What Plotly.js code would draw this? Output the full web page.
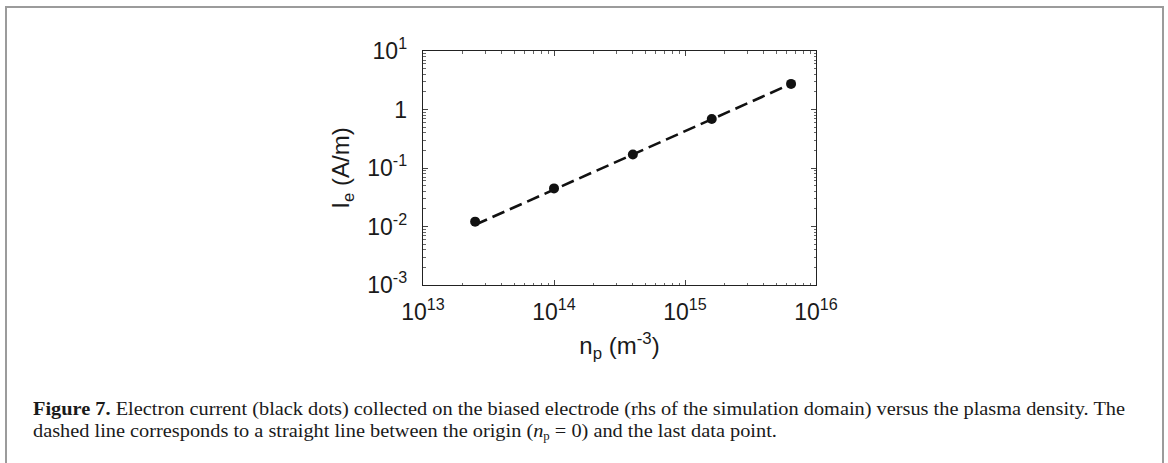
<!DOCTYPE html>
<html>
<head>
<meta charset="utf-8">
<script src="https://cdn.plot.ly/plotly-3.0.1.min.js"></script>
<style>
  html, body { margin:0; padding:0; background:#fff; width:1168px; height:463px; overflow:hidden; }
  #chart { position:absolute; left:0; top:0; width:1168px; height:463px; }
  #frame { position:absolute; left:5px; top:6px; width:1155px; height:480px;
           border:2px solid #9b9b9b; border-bottom:none; pointer-events:none; z-index:5; }
  .cap { position:absolute; left:33px; font-family:"Liberation Serif", serif; font-size:19px;
         line-height:19px; white-space:nowrap; color:#1a1a1a; transform-origin:0 0; display:inline-block; z-index:6; }
</style>
</head>
<body>
<div id="chart"></div>
<div id="frame"></div>
<div class="cap" id="cap1" style="top:399px"><b>Figure 7.</b> Electron current (black dots) collected on the biased electrode (rhs of the simulation domain) versus the plasma density. The</div>
<div class="cap" id="cap2" style="top:421px">dashed line corresponds to a straight line between the origin (<i>n</i><sub style="font-size:12px;vertical-align:-3px">p</sub> = 0) and the last data point.</div>
<script>
// Data
const density = [2.5e13, 1e14, 4e14, 1.6e15, 6.45e15];      // n_p (m^-3)
const current = [0.0121, 0.0448, 0.170, 0.687, 2.74];       // I_e (A/m)
const lineDensity = [2.5e13, 6.45e15];                      // dashed line ends
const lineCurrent = [0.0107, 2.74];
const xTickVals = [1e13, 1e14, 1e15, 1e16];
const xTickText = ['10<sup>13</sup>', '10<sup>14</sup>', '10<sup>15</sup>', '10<sup>16</sup>'];
const yTickVals = [1e-3, 1e-2, 1e-1, 1, 10];
const yTickText = ['10<sup>-3</sup>', '10<sup>-2</sup>', '10<sup>-1</sup>', '1', '10<sup>1</sup>'];

const tickFont = {family:'Liberation Sans, Arial, sans-serif', size:23, color:'#1a1a1a'};
const titleFont = {family:'Liberation Sans, Arial, sans-serif', size:24, color:'#1a1a1a'};

const traces = [
  {x: lineDensity, y: lineCurrent, mode:'lines', type:'scatter',
   line:{color:'#111', width:2.6, dash:'13px,6px'}, hoverinfo:'skip', showlegend:false},
  {x: density, y: current, mode:'markers', type:'scatter',
   marker:{color:'#111', size:10}, showlegend:false}
];

const axisCommon = {
  type:'log', showgrid:false, zeroline:false,
  showline:true, linecolor:'#222', linewidth:1.3, mirror:'allticks',
  ticks:'inside', ticklen:5, tickwidth:1, tickcolor:'#444',
  tickmode:'array', tickfont:tickFont,
  minor:{ticks:'inside', ticklen:2.5, tickwidth:1, tickcolor:'#666', dtick:'D1', showgrid:false}
};

const layout = {
  width:1168, height:463,
  margin:{l:423, r:352, t:51, b:178, pad:0},
  paper_bgcolor:'#fff', plot_bgcolor:'#fff',
  xaxis: Object.assign({}, axisCommon, {
    range:[13, 16], tickvals:xTickVals, ticktext:xTickText, ticklabelstandoff:6,
    title:{text:'n<sub>p</sub> (m<sup>-3</sup>)', font:titleFont, standoff:13}
  }),
  yaxis: Object.assign({}, axisCommon, {
    range:[-3, 1], tickvals:yTickVals, ticktext:yTickText, ticklabelstandoff:10,
    title:{text:'I<sub>e</sub> (A/m)', font:titleFont, standoff:10}
  })
};

Plotly.newPlot('chart', traces, layout, {displayModeBar:false, staticPlot:true});

function fitCaptions(){
  const c1 = document.getElementById('cap1');
  const c2 = document.getElementById('cap2');
  c1.style.transform = 'none';
  c2.style.transform = 'none';
  const w = c1.getBoundingClientRect().width;
  const s = 1092 / w;
  c1.style.transform = 'scaleX(' + s + ')';
  c2.style.transform = 'scaleX(' + s + ')';
}
fitCaptions();
if (document.fonts && document.fonts.ready) { document.fonts.ready.then(fitCaptions); }
</script>
</body>
</html>
